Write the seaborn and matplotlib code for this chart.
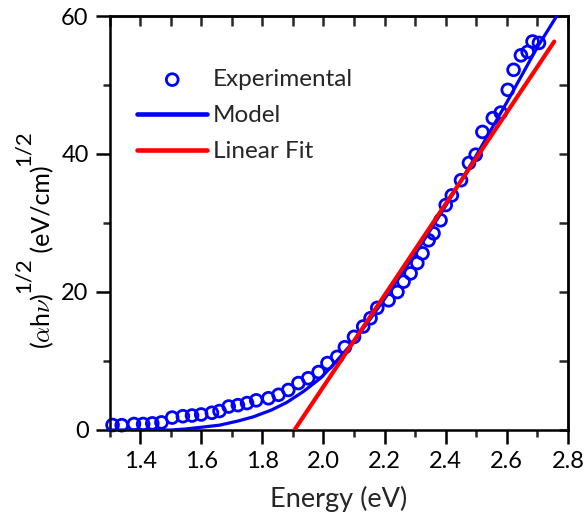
import numpy as np
import pandas as pd
import matplotlib
matplotlib.use("Agg")
import matplotlib.pyplot as plt
import seaborn as sns
from matplotlib.ticker import MultipleLocator, FormatStrFormatter

# ---------------- data ----------------
exp_energy = [1.31, 1.34, 1.38, 1.41, 1.44, 1.47, 1.505, 1.54, 1.57, 1.60,
              1.635, 1.66, 1.69, 1.72, 1.75, 1.78, 1.82, 1.853, 1.885, 1.918,
              1.95, 1.984, 2.013, 2.045, 2.07, 2.10, 2.13, 2.154, 2.176, 2.213,
              2.242, 2.262, 2.285, 2.307, 2.324, 2.344, 2.36, 2.383, 2.40, 2.42,
              2.45, 2.476, 2.498, 2.52, 2.554, 2.58, 2.603, 2.622, 2.646, 2.668,
              2.684, 2.705]
exp_value = [0.72, 0.7, 0.87, 0.87, 0.96, 1.1, 1.8, 2.0, 2.1, 2.25,
             2.5, 2.75, 3.4, 3.6, 3.9, 4.3, 4.6, 5.1, 5.8, 6.8,
             7.5, 8.4, 9.7, 10.6, 12.0, 13.5, 15.0, 16.2, 17.7, 18.8,
             20.0, 21.5, 22.7, 24.2, 25.6, 27.5, 28.5, 30.4, 32.6, 34.0,
             36.2, 38.7, 39.9, 43.2, 45.2, 46.0, 49.3, 52.2, 54.3, 54.8,
             56.3, 56.1]

model_energy = [1.30, 1.50, 1.55, 1.60, 1.66, 1.72, 1.77, 1.83, 1.88, 1.935,
                1.99, 2.035, 2.10, 2.15, 2.20, 2.30, 2.40, 2.50, 2.60, 2.70, 2.78]
model_value = [0.0, 0.0, 0.15, 0.4, 0.7, 1.3, 1.9, 2.9, 4.0, 5.6,
               7.5, 9.6, 12.9, 15.9, 19.0, 25.5, 32.5, 39.8, 47.5, 55.5, 61.2]

fit_energy = [1.905, 2.755]
fit_value = [0.0, 56.3]

x_ticks = [1.4, 1.6, 1.8, 2.0, 2.2, 2.4, 2.6, 2.8]
y_ticks = [0, 20, 40, 60]

df_exp = pd.DataFrame({"Energy": exp_energy, "Value": exp_value})
df_model = pd.DataFrame({"Energy": model_energy, "Value": model_value})
df_fit = pd.DataFrame({"Energy": fit_energy, "Value": fit_value})

# ---------------- style ----------------
sns.set_theme(style="ticks")
plt.rcParams["font.family"] = ["Lato", "DejaVu Sans"]
plt.rcParams["mathtext.fontset"] = "cm"
plt.rcParams["axes.linewidth"] = 1.8

W, H = 584, 518
fig = plt.figure(figsize=(W / 100, H / 100), dpi=100)
ax = fig.add_axes([109.5 / W, 1 - 430 / H, (568 - 109.5) / W, (430 - 16) / H])

BLUE = "#0000FF"
RED = "#FF0000"

sns.scatterplot(data=df_exp, x="Energy", y="Value", ax=ax, marker="o",
                s=72, facecolor="none", edgecolor=BLUE, linewidth=2.0,
                label="Experimental", zorder=2, clip_on=False)
sns.lineplot(data=df_model, x="Energy", y="Value", ax=ax, color=BLUE,
             linewidth=2.3, label="Model", zorder=3)
sns.lineplot(data=df_fit, x="Energy", y="Value", ax=ax, color=RED,
             linewidth=3.0, label="Linear Fit", zorder=4)

ax.set_xlim(1.3, 2.8)
ax.set_ylim(0, 60)
ax.set_xticks(x_ticks)
ax.set_yticks(y_ticks)
ax.xaxis.set_major_formatter(FormatStrFormatter("%.1f"))
ax.xaxis.set_minor_locator(MultipleLocator(0.1))
ax.yaxis.set_minor_locator(MultipleLocator(10))
ax.tick_params(which="major", direction="out", length=10, width=1.8,
               labelsize=17, pad=5, colors="black")
ax.tick_params(which="minor", direction="out", length=5, width=1.8)
for sp in ax.spines.values():
    sp.set_visible(True)
    sp.set_linewidth(1.8)
    sp.set_color("black")

# top and right inward ticks
top = ax.secondary_xaxis("top")
top.set_xticks(np.arange(1.3, 2.81, 0.1))
top.tick_params(direction="in", length=7, width=1.8, labeltop=False)
top.spines["top"].set_linewidth(1.8)
right = ax.secondary_yaxis("right")
right.set_yticks([0, 10, 20, 30, 40, 50, 60])
right.tick_params(direction="in", length=6.5, width=1.8, labelright=False)
right.spines["right"].set_linewidth(1.8)

ax.set_xlabel("Energy (eV)", fontsize=19.5, labelpad=10)
ax.set_ylabel("")

# y label built from pieces so the superscripts stay large
fig.canvas.draw()
renderer = fig.canvas.get_renderer()
pieces = [(r"($\alpha$h$\nu$)", 18, 50), ("1/2", 16, 30),
          (" (eV/cm)", 18, 50), ("1/2", 16, 30)]
ystart = 349.0  # pixels from top
for txt, fs, bx in pieces:
    t = fig.text(bx / W, 1 - ystart / H, txt, rotation=90,
                 rotation_mode="anchor", ha="left", va="baseline",
                 fontsize=fs, color="black")
    bb = t.get_window_extent(renderer)
    ystart = H - bb.y1 + 1

leg = ax.legend(loc="upper left", bbox_to_anchor=(137 / W, 1 - 69 / H),
                bbox_transform=fig.transFigure, frameon=False, fontsize=17.5,
                handlelength=2.9, handletextpad=0.22, labelspacing=0.62,
                borderpad=0, borderaxespad=0)
for line in leg.get_lines():
    line.set_linewidth(3.3)
    line.set_solid_capstyle("round")

fig.savefig("out.png", dpi=100)
